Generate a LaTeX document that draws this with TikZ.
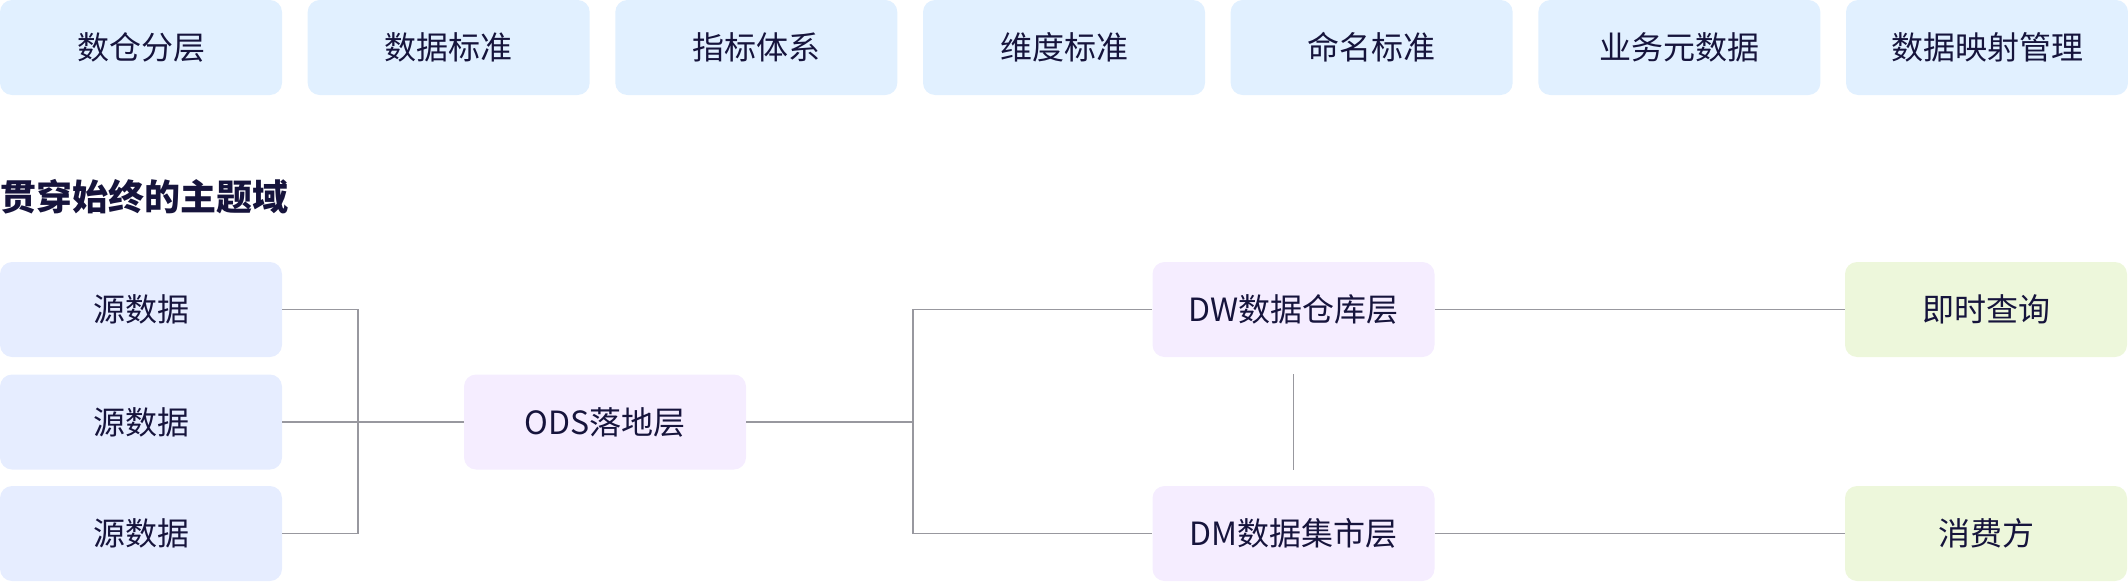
\documentclass[tikz,border=0pt]{standalone}
\usepackage{fontspec}
\newfontfamily\cjk{Noto Sans CJK SC}
\definecolor{ink}{HTML}{16143C}
\definecolor{topblue}{HTML}{E1F0FF}
\definecolor{srcblue}{HTML}{E6EDFF}
\definecolor{layerpurple}{HTML}{F5EDFF}
\definecolor{outgreen}{HTML}{EDF7DB}
\definecolor{linegray}{HTML}{98989F}
\begin{document}
\begin{tikzpicture}[x=0.75pt,y=-0.75pt,
  box/.style={rounded corners=9pt,minimum width=211.5pt,minimum height=71.25pt,inner sep=0pt,
    font=\cjk\fontsize{24pt}{28pt}\selectfont,text=ink},
  topbox/.style={box,fill=topblue},
  srcbox/.style={box,fill=srcblue},
  layerbox/.style={box,fill=layerpurple},
  outbox/.style={box,fill=outgreen},
  link/.style={draw=linegray,line width=1.2pt}]
\useasboundingbox (0,0) rectangle (2128,582);
\foreach \name [count=\i from 0] in {数仓分层,数据标准,指标体系,维度标准,命名标准,业务元数据,数据映射管理}
  \node[topbox] (top\i) at ({141+\i*307.667},47.5) {\name};
\node[anchor=west,inner sep=0pt,text=ink,font=\cjk\bfseries\fontsize{27pt}{30pt}\selectfont] (title) at (0,197) {贯穿始终的主题域};
\node[srcbox] (src1) at (141,309.5) {源数据};
\node[srcbox] (src2) at (141,422) {源数据};
\node[srcbox] (src3) at (141,533.5) {源数据};
\node[layerbox] (ods) at (605,422) {ODS落地层};
\node[layerbox] (dw) at (1293.5,309.5) {DW数据仓库层};
\node[layerbox] (dm) at (1293.5,533.5) {DM数据集市层};
\node[outbox] (query) at (1986,309.5) {即时查询};
\node[outbox] (consumer) at (1986,533.5) {消费方};
\coordinate (srcjoin) at (358,422);
\coordinate (odsjoin) at (913,422);
\draw[link] (src1.east) -| (srcjoin) |- (src3.east);
\draw[link] (src2.east) -- (ods.west);
\draw[link] (dw.west) -| (odsjoin) |- (dm.west);
\draw[link] (ods.east) -- (odsjoin);
\draw[link] (dw.east) -- (query.west);
\draw[link] (dm.east) -- (consumer.west);
\draw[link,shorten <=12.75pt,shorten >=12pt] (dw.south) -- (dm.north);
\end{tikzpicture}
\end{document}
